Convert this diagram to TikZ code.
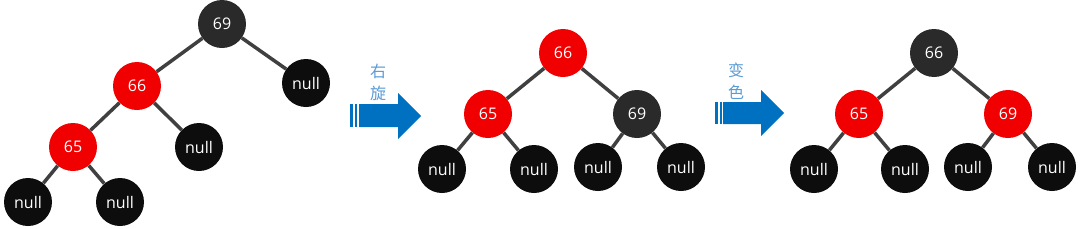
\documentclass[tikz,border=0pt]{standalone}
\usepackage{fontspec}
\usepackage{xcolor}
\usepackage{tikz}
\setmainfont{Open Sans}
\newfontfamily\cjk{Noto Sans CJK SC}
\usetikzlibrary{positioning}
\definecolor{rbred}{RGB}{240, 0, 0}
\definecolor{rbdark}{RGB}{42, 42, 42}
\definecolor{rbnil}{RGB}{13, 13, 13}
\definecolor{edgegray}{RGB}{64, 64, 64}
\definecolor{arrowblue}{RGB}{0, 112, 192}
\definecolor{labelblue}{RGB}{91, 155, 213}
\tikzset{
 rbnode/.style={
 circle,
 minimum size=48pt,
 inner sep=0pt,
 text=white,
 font=\fontsize{16}{19}\selectfont
 },
 rednode/.style={rbnode, fill=rbred},
 blacknode/.style={rbnode, fill=rbdark},
 nilnode/.style={rbnode, fill=rbnil},
 treeedge/.style={draw=edgegray, line width=3.5pt},
 oplabel/.style={
 text=labelblue,
 align=center,
 inner sep=0pt,
 font=\cjk\fontsize{16}{22}\selectfont
 },
 blockarrow/.style={fill=arrowblue}
}

\begin{document}
\begin{tikzpicture}[x=1pt, y=-1pt]
 \useasboundingbox (0,0) rectangle (1080,228);
 % before: red-red on the left side
 \node[blacknode] (a69) at (222,24) {69};
 \node[rednode] (a66) at (137,86) {66};
 \node[nilnode] (anr) at (306,83) {null};
 \node[rednode] (a65) at (73,147) {65};
 \node[nilnode] (anm) at (199,147) {null};
 \node[nilnode] (anll) at (28,202) {null};
 \node[nilnode] (anlr) at (120,202) {null};
 \draw[treeedge] (a69) -- (a66);
 \draw[treeedge] (a69) -- (anr);
 \draw[treeedge] (a66) -- (a65);
 \draw[treeedge] (a66) -- (anm);
 \draw[treeedge] (a65) -- (anll);
 \draw[treeedge] (a65) -- (anlr);

 % rotate right
 \node[oplabel] (rot) at (378,82) {右\\旋};
 \fill[blockarrow] (350,104) rectangle (353,127);
 \fill[blockarrow] (355,104) rectangle (357,127);
 \fill[blockarrow] (359,104) -- (398,104) -- (398,93) -- (421,116)
 -- (398,139) -- (398,127) -- (359,127) -- cycle;

 % after rotation
 \node[rednode] (b66) at (563,53) {66};
 \node[rednode] (b65) at (488,114) {65};
 \node[blacknode] (b69) at (637,114) {69};
 \node[nilnode] (bn1) at (442,169) {null};
 \node[nilnode] (bn2) at (534,169) {null};
 \node[nilnode] (bn3) at (598,167) {null};
 \node[nilnode] (bn4) at (681,167) {null};
 \draw[treeedge] (b66) -- (b65);
 \draw[treeedge] (b66) -- (b69);
 \draw[treeedge] (b65) -- (bn1);
 \draw[treeedge] (b65) -- (bn2);
 \draw[treeedge] (b69) -- (bn3);
 \draw[treeedge] (b69) -- (bn4);

 % recolour
 \node[oplabel] (recol) at (736,81) {变\\色};
 \fill[blockarrow] (715,102) rectangle (718,124);
 \fill[blockarrow] (719.5,102) rectangle (721.5,124);
 \fill[blockarrow] (723,102) -- (761,102) -- (761,90) -- (784,113)
 -- (761,136) -- (761,124) -- (723,124) -- cycle;

 % after recolouring
 \node[blacknode] (c66) at (934,53) {66};
 \node[rednode] (c65) at (859,114) {65};
 \node[rednode] (c69) at (1008,114) {69};
 \node[nilnode] (cn1) at (814,169) {null};
 \node[nilnode] (cn2) at (905,169) {null};
 \node[nilnode] (cn3) at (968,167) {null};
 \node[nilnode] (cn4) at (1052,167) {null};
 \draw[treeedge] (c66) -- (c65);
 \draw[treeedge] (c66) -- (c69);
 \draw[treeedge] (c65) -- (cn1);
 \draw[treeedge] (c65) -- (cn2);
 \draw[treeedge] (c69) -- (cn3);
 \draw[treeedge] (c69) -- (cn4);
\end{tikzpicture}
\end{document}
